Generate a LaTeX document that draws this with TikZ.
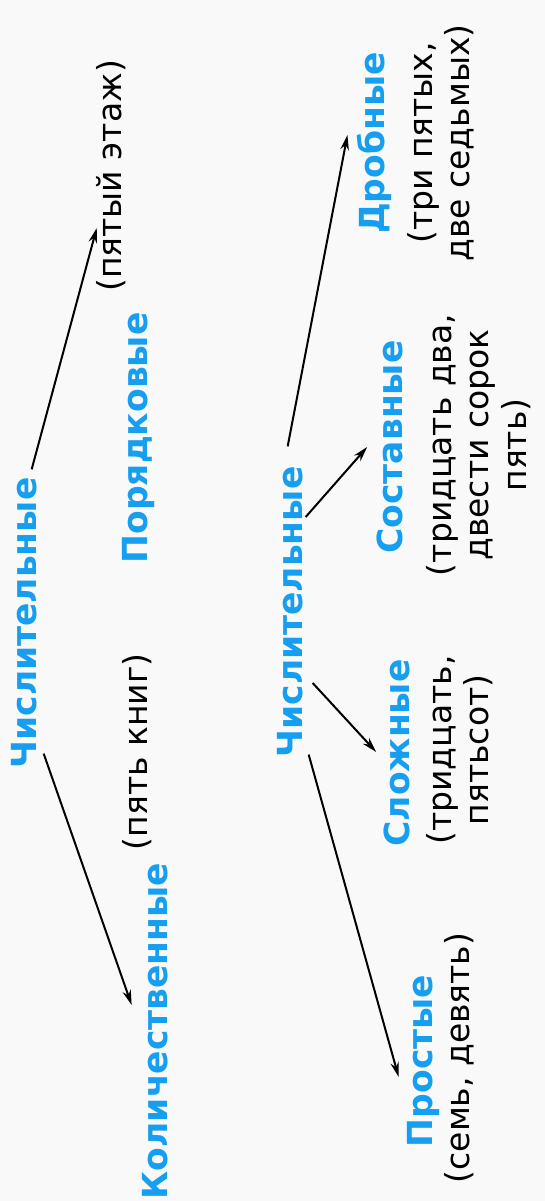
\documentclass[tikz,border=0pt]{standalone}
\usepackage{fontspec}
\setmainfont{DejaVu Sans}
\usetikzlibrary{arrows.meta,positioning,calc}
\definecolor{numblue}{RGB}{22,158,240}
\definecolor{paper}{RGB}{249,249,249}

\begin{document}
\begin{tikzpicture}[
  x=1pt,y=1pt,
  rotate=90,transform shape,
  >={Stealth[length=15pt,width=8.5pt]},
  head/.style={font=\fontsize{34.5}{40}\selectfont\bfseries,text=numblue,inner sep=0pt,anchor=base},
  example/.style={font=\fontsize{33}{37.5}\selectfont,inner sep=0pt,align=center},
  line/.style={->,line width=2pt}
]

% ---- page, landscape frame ----
\fill[paper] (0,0) rectangle (1201,545);

% ---- first tree ----
\node[head] (num1) at (578,508) {Числительные};
\node[head] (card) at (170,377) {Количественные};
\node[head] (ord) at (763,397) {Порядковые};
\node[example,anchor=base] (cardex) at (449,397) {(пять книг)};
\node[example,anchor=base] (ordex) at (1025,423) {(пятый этаж)};

% ---- second tree ----
\node[head] (num2) at (589,242) {Числительные};
\node[head] (simple) at (140,113) {Простые};
\node[head] (compl) at (448,135) {Сложные};
\node[head] (sost) at (754,142) {Составные};
\node[head] (drob) at (1058,160) {Дробные};

\node[example,anchor=north] (simpleex) at (143,101) {(семь, девять)};
\node[example,anchor=north] (complex) at (451,119) {(тридцать,\\пятьсот)};
\node[example,anchor=north] (sostex) at (756,119) {(тридцать два,\\двести сорок\\пять)};
\node[example,anchor=north] (drobex) at (1058,138) {(три пятых,\\две седьмых)};

% ---- arrows ----
\draw[line] ([shift={(8,-7)}]num1.east) -- ([xshift=-52]ordex.north);
\draw[line] ([shift={(15,-6)}]num1.south west) -- ([shift={(26,11)}]card.north);

\draw[line] ([shift={(3,-5)}]num2.south west) -- ([shift={(-16,8)}]simple.north);
\draw[line] ([shift={(-71,-9)}]num2.south) -- ([shift={(1,8)}]compl.north);
\draw[line] ([shift={(95,-2)}]num2.south) -- ([shift={(0,10)}]sost.north);
\draw[line] ([shift={(20,3)}]num2.east) -- ([shift={(8,10)}]drob.north);

\end{tikzpicture}
\end{document}
